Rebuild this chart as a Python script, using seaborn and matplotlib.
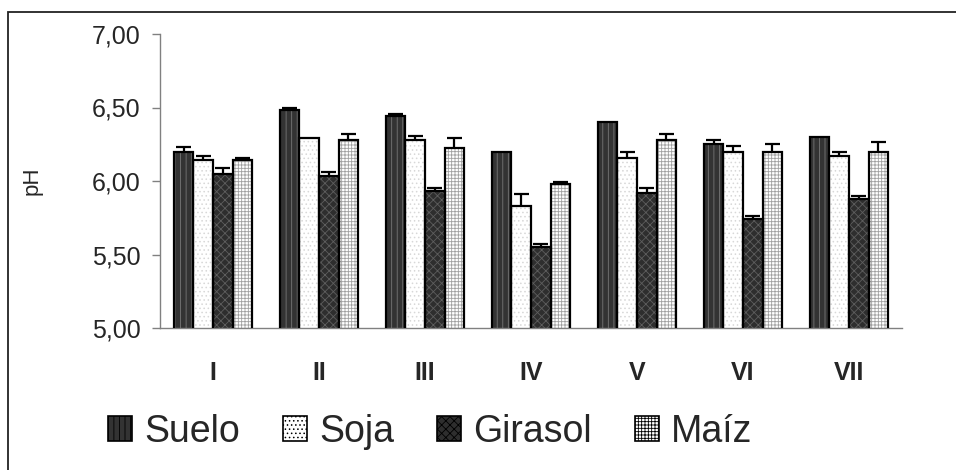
import numpy as np
import pandas as pd
import matplotlib
matplotlib.use("Agg")
import matplotlib.pyplot as plt
from matplotlib.patches import Rectangle
import seaborn as sns

# datos
sitios = ["I", "II", "III", "IV", "V", "VI", "VII"]
cultivos = ["Suelo", "Soja", "Girasol", "Maíz"]
ph_suelo = [6.20, 6.485, 6.445, 6.195, 6.40, 6.25, 6.30]
ph_soja = [6.145, 6.29, 6.28, 5.83, 6.155, 6.195, 6.17]
ph_girasol = [6.05, 6.035, 5.93, 5.55, 5.915, 5.74, 5.875]
ph_maiz = [6.145, 6.28, 6.225, 5.98, 6.28, 6.195, 6.195]
err_suelo = [0.03, 0.01, 0.01, 0.0, 0.0, 0.03, 0.0]
err_soja = [0.027, 0.0, 0.027, 0.08, 0.04, 0.04, 0.03]
err_girasol = [0.037, 0.027, 0.02, 0.02, 0.04, 0.025, 0.02]
err_maiz = [0.01, 0.04, 0.068, 0.01, 0.04, 0.057, 0.07]
y_ticks = [5.0, 5.5, 6.0, 6.5, 7.0]
y_labels = ["5,00", "5,50", "6,00", "6,50", "7,00"]

valores = [ph_suelo, ph_soja, ph_girasol, ph_maiz]
errores = [err_suelo, err_soja, err_girasol, err_maiz]

df = pd.DataFrame({
    "sitio": np.tile(sitios, len(cultivos)),
    "cultivo": np.repeat(cultivos, len(sitios)),
    "ph": np.concatenate(valores),
})

# estilo de cada serie: relleno, trama, color de trama
estilos = [
    ("#333333", "|||", "#777777"),
    ("#ffffff", "....", "#d8d8d8"),
    ("#2e2e2e", "xxxx", "#5e5e5e"),
    ("#ffffff", "+++++", "#a0a0a0"),
]

sns.set_style("white")
plt.rcParams["font.family"] = ["Liberation Sans", "DejaVu Sans"]
plt.rcParams["hatch.linewidth"] = 0.6

fig = plt.figure(figsize=(9.56, 4.70), dpi=100)
ax = fig.add_axes([160 / 956, 1 - 328 / 470, (902 - 160) / 956, (328 - 34) / 470])

sns.barplot(data=df, x="sitio", y="ph", hue="cultivo", order=sitios,
            hue_order=cultivos, errorbar=None, width=0.74, ax=ax, legend=False)

for cont, (fc, ht, hc), err in zip(ax.containers, estilos, errores):
    for bar, e in zip(cont, err):
        bar.set_facecolor(fc)
        bar.set_hatch(ht)
        bar.set_edgecolor(hc)
        bar.set_linewidth(0)
        ax.add_patch(Rectangle(bar.get_xy(), bar.get_width(), bar.get_height(),
                               fill=False, edgecolor="black", linewidth=1.6, zorder=3))
        if e > 0:
            xc = bar.get_x() + bar.get_width() / 2
            top = bar.get_y() + bar.get_height()
            half = bar.get_width() * 0.38
            ax.vlines(xc, top, top + e, color="black", linewidth=1.6, zorder=4)
            ax.hlines(top + e, xc - half, xc + half, color="black", linewidth=1.6, zorder=4)

ax.set_ylim(5, 7)
ax.set_xlim(-0.5, 6.5)
ax.set_yticks(y_ticks)
ax.set_yticklabels(y_labels, fontsize=18)
ax.set_xticks(range(len(sitios)))
ax.set_xticklabels(sitios, fontsize=18, fontweight="bold")
ax.set_xticks(np.arange(-0.5, len(sitios), 1), minor=True)
ax.tick_params(axis="x", which="major", length=0, pad=24)
ax.tick_params(axis="x", which="minor", length=6, color="#808080", width=1, direction="out")
ax.tick_params(axis="y", length=6, color="#808080", width=1, direction="out", pad=8, left=True)
ax.set_xlabel("")
ax.set_ylabel("pH", fontsize=16)
ax.yaxis.set_label_coords(-0.158, 0.5)

sns.despine(ax=ax)
for s in ["left", "bottom"]:
    ax.spines[s].set_color("#808080")
    ax.spines[s].set_linewidth(1)

# leyenda inferior
handles = [Rectangle((0, 0), 1, 1, facecolor=fc, hatch=ht, edgecolor="black", linewidth=1.2)
           for fc, ht, hc in estilos]
fig.legend(handles, cultivos, loc="center left", bbox_to_anchor=(93 / 956, 38 / 470),
           ncol=4, frameon=False, fontsize=27, handlelength=0.64, handleheight=0.64,
           handletextpad=0.32, columnspacing=1.15, borderaxespad=0)

# marco exterior
fig.add_artist(Rectangle((8 / 956, -0.1), 1.2, 1.1 - 12 / 470, transform=fig.transFigure,
                         fill=False, edgecolor="#222222", linewidth=1.3))

fig.savefig("out.png", dpi=100)
